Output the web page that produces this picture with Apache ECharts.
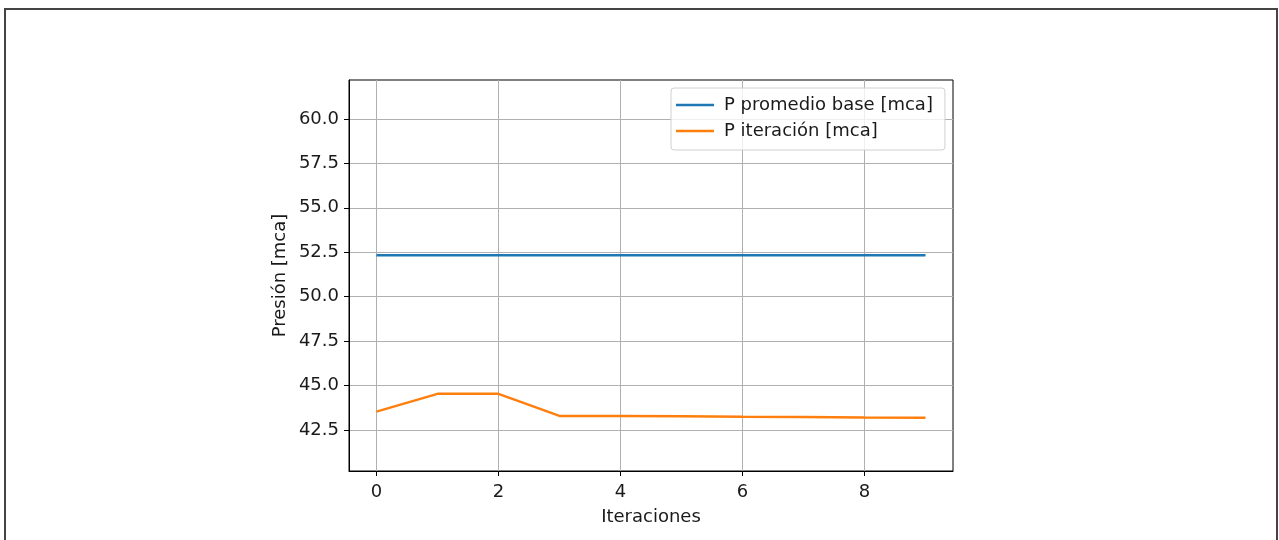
<!DOCTYPE html>
<html>
<head>
<meta charset="utf-8">
<script src="https://cdn.jsdelivr.net/npm/echarts@6/dist/echarts.min.js"></script>
<style>
html,body{margin:0;padding:0;background:#fff;}
#chart{width:1279px;height:540px;}
</style>
</head>
<body>
<div id="chart"></div>
<script>
// Data
const iterations = [0, 1, 2, 3, 4, 5, 6, 7, 8, 9];
const pBase = [52.33, 52.33, 52.33, 52.33, 52.33, 52.33, 52.33, 52.33, 52.33, 52.33];
const pIter = [43.53, 44.53, 44.53, 43.29, 43.28, 43.27, 43.24, 43.23, 43.20, 43.19];
const xTicks = [0, 2, 4, 6, 8];
const yTicks = [42.5, 45.0, 47.5, 50.0, 52.5, 55.0, 57.5, 60.0];
const seriesNames = ['P promedio base [mca]', 'P iteración [mca]'];
const xAxisName = 'Iteraciones';
const yAxisName = 'Presión [mca]';

const font = 'DejaVu Sans';
const fs = 18;
const chart = echarts.init(document.getElementById('chart'));
chart.setOption({
  animation: false,
  backgroundColor: '#fff',
  textStyle: {fontFamily: font},
  graphic: [{
    type: 'rect',
    shape: {x: 5, y: 9, width: 1272, height: 600},
    style: {fill: 'none', stroke: '#444', lineWidth: 2},
    silent: true
  }],
  grid: {left: 349, top: 80, right: 326, bottom: 69, show: true,
         borderColor: '#000', borderWidth: 1, backgroundColor: 'transparent'},
  legend: {
    orient: 'vertical',
    left: 671, top: 88,
    padding: [8, 12, 10, 5],
    itemGap: 8,
    itemWidth: 38, itemHeight: 20,
    borderColor: '#d0d0d0', borderWidth: 1, borderRadius: 3,
    backgroundColor: 'rgba(255,255,255,0.8)',
    textStyle: {fontFamily: font, fontSize: fs, color: '#1a1a1a', padding: [0,0,0,5]},
    icon: 'path://M0,8.7 L38,8.7 L38,11.3 L0,11.3 Z',
    data: seriesNames
  },
  xAxis: {
    type: 'value',
    min: -0.45, max: 9.45,
    name: xAxisName,
    nameLocation: 'middle',
    nameGap: 37,
    nameTextStyle: {fontFamily: font, fontSize: fs, color: '#1a1a1a'},
    axisLine: {show: true, onZero: false, lineStyle: {color: '#000', width: 1}},
    axisTick: {show: true, length: 5, customValues: xTicks, lineStyle: {color: '#000'}},
    axisLabel: {customValues: xTicks, fontFamily: font, fontSize: fs, color: '#1a1a1a', margin: 12},
    splitLine: {show: true, lineStyle: {color: '#b0b0b0', width: 1}}
  },
  yAxis: {
    type: 'value',
    min: 40.19, max: 62.19,
    name: yAxisName,
    nameLocation: 'middle',
    nameGap: 60,
    nameRotate: 90,
    nameTextStyle: {fontFamily: font, fontSize: fs, color: '#1a1a1a'},
    axisLine: {show: true, onZero: false, lineStyle: {color: '#000', width: 1}},
    axisTick: {show: true, length: 5, customValues: yTicks, lineStyle: {color: '#000'}},
    axisLabel: {customValues: yTicks, fontFamily: font, fontSize: fs, color: '#1a1a1a', margin: 10,
                formatter: v => v.toFixed(1)},
    splitLine: {show: true, lineStyle: {color: '#b0b0b0', width: 1}}
  },
  series: [
    {
      name: seriesNames[0], type: 'line', symbol: 'none',
      lineStyle: {color: '#1f77b4', width: 2.5}, itemStyle: {color: '#1f77b4'},
      data: iterations.map((x, i) => [x, pBase[i]])
    },
    {
      name: seriesNames[1], type: 'line', symbol: 'none',
      lineStyle: {color: '#ff7f0e', width: 2.5}, itemStyle: {color: '#ff7f0e'},
      data: iterations.map((x, i) => [x, pIter[i]])
    }
  ]
});
</script>
</body>
</html>
